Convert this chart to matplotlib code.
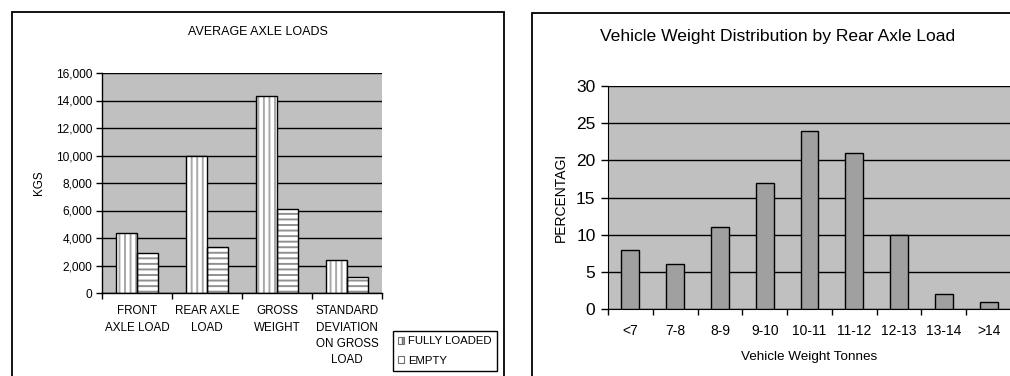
import matplotlib
matplotlib.use("Agg")
import matplotlib.pyplot as plt
from matplotlib.patches import Rectangle, Patch
import numpy as np

# ---- data: left chart ----
axle_categories = ["FRONT\nAXLE LOAD", "REAR AXLE\nLOAD", "GROSS\nWEIGHT",
                   "STANDARD\nDEVIATION\nON GROSS\nLOAD"]
fully_loaded = [4350, 10000, 14300, 2400]
empty = [2900, 3330, 6100, 1200]
series_names = ["FULLY LOADED", "EMPTY"]

# ---- data: right chart ----
weight_bins = ["<7", "7-8", "8-9", "9-10", "10-11", "11-12", "12-13", "13-14", ">14"]
percentages = [8, 6, 11, 17, 24, 21, 10, 2, 1]

plt.rcParams['font.family'] = ['Liberation Sans', 'DejaVu Sans']
plt.rcParams['hatch.linewidth'] = 1.4

W, H = 1010, 376
fig = plt.figure(figsize=(W / 100, H / 100), dpi=100)
fig.patch.set_facecolor('white')

def fx(px):
    return px / W

def fy(py):
    return 1 - py / H

# panel borders
fig.add_artist(Rectangle((fx(12), fy(400)), fx(504) - fx(12), fy(12) - fy(400),
                         transform=fig.transFigure, fill=False, edgecolor='black', lw=1.3))
fig.add_artist(Rectangle((fx(532), fy(400)), fx(1030) - fx(532), fy(13) - fy(400),
                         transform=fig.transFigure, fill=False, edgecolor='black', lw=1.3))

GRAY = '#c0c0c0'

# ---------------- left chart ----------------
ax1 = fig.add_axes([fx(102), fy(293), fx(382) - fx(102), fy(73) - fy(293)])
ax1.set_facecolor(GRAY)
x = np.arange(len(axle_categories))
bw = 0.3
ax1.bar(x - bw / 2, fully_loaded, bw, color='white', edgecolor='#a8a8a8', hatch='|||', lw=0, zorder=2)
ax1.bar(x - bw / 2, fully_loaded, bw, fill=False, edgecolor='black', lw=1, zorder=3)
ax1.bar(x + bw / 2, empty, bw, color='white', edgecolor='#909090', hatch='---', lw=0, zorder=2)
ax1.bar(x + bw / 2, empty, bw, fill=False, edgecolor='black', lw=1, zorder=3)
ax1.set_xlim(-0.5, len(axle_categories) - 0.5)
ax1.set_ylim(0, 16000)
ax1.set_yticks(np.arange(0, 16001, 2000))
ax1.set_yticklabels([f"{v:,}" for v in range(0, 16001, 2000)], fontsize=8.6)
ax1.yaxis.grid(True, color='black', lw=1)
ax1.set_axisbelow(True)
ax1.set_xticks(x)
ax1.set_xticklabels(axle_categories, fontsize=8.4, linespacing=1.48, va='top')
ax1.set_xticks(np.arange(-0.5, len(axle_categories)), minor=True)
ax1.tick_params(axis='x', which='major', length=0, pad=9)
ax1.tick_params(axis='x', which='minor', length=4, width=1, direction='out')
ax1.tick_params(axis='y', length=4, width=1, pad=3, direction='out')
for s in ['top', 'right']:
    ax1.spines[s].set_visible(False)
ax1.spines['left'].set_linewidth(1)
ax1.spines['bottom'].set_linewidth(1)
ax1.set_ylabel("KGS", fontsize=8.4, labelpad=8)
fig.text(fx(258), fy(32), "AVERAGE AXLE LOADS", ha='center', va='center', fontsize=9)

handles = [Patch(facecolor='white', edgecolor='#707070', hatch='|||', lw=0.8),
           Patch(facecolor='white', edgecolor='#707070', lw=0.8)]
leg = fig.legend(handles, series_names, loc='upper left',
                 bbox_to_anchor=(fx(393), fy(331)), bbox_transform=fig.transFigure,
                 fontsize=8.2, handlelength=0.55, handleheight=0.55, handletextpad=0.35,
                 borderaxespad=0, borderpad=0.45, labelspacing=0.85, fancybox=False,
                 edgecolor='black', framealpha=1)
leg.get_frame().set_linewidth(1)

# ---------------- right chart ----------------
ax2 = fig.add_axes([fx(608), fy(309), fx(1011) - fx(608), fy(86) - fy(309)])
ax2.set_facecolor(GRAY)
x2 = np.arange(len(weight_bins))
ax2.bar(x2, percentages, 0.4, color='#a0a0a0', edgecolor='black', lw=1, zorder=3)
ax2.set_xlim(-0.5, len(weight_bins) - 0.5)
ax2.set_ylim(0, 30)
ax2.set_yticks(np.arange(0, 31, 5))
ax2.tick_params(axis='y', labelsize=12.5, length=5, width=1, pad=4, direction='out')
ax2.yaxis.grid(True, color='black', lw=1)
ax2.set_axisbelow(True)
ax2.set_xticks(x2)
ax2.set_xticklabels(weight_bins, fontsize=10)
ax2.set_xticks(np.arange(-0.5, len(weight_bins)), minor=True)
ax2.tick_params(axis='x', which='major', length=0, pad=11)
ax2.tick_params(axis='x', which='minor', length=4, width=1, direction='out')
for s in ['top', 'right']:
    ax2.spines[s].set_visible(False)
ax2.set_ylabel("PERCENTAGI", fontsize=10, labelpad=6)
ax2.set_xlabel("Vehicle Weight Tonnes", fontsize=9.7, labelpad=9)
fig.text(fx(778), fy(37), "Vehicle Weight Distribution by Rear Axle Load",
         ha='center', va='center', fontsize=12.6)

fig.savefig("out.png", dpi=100)
